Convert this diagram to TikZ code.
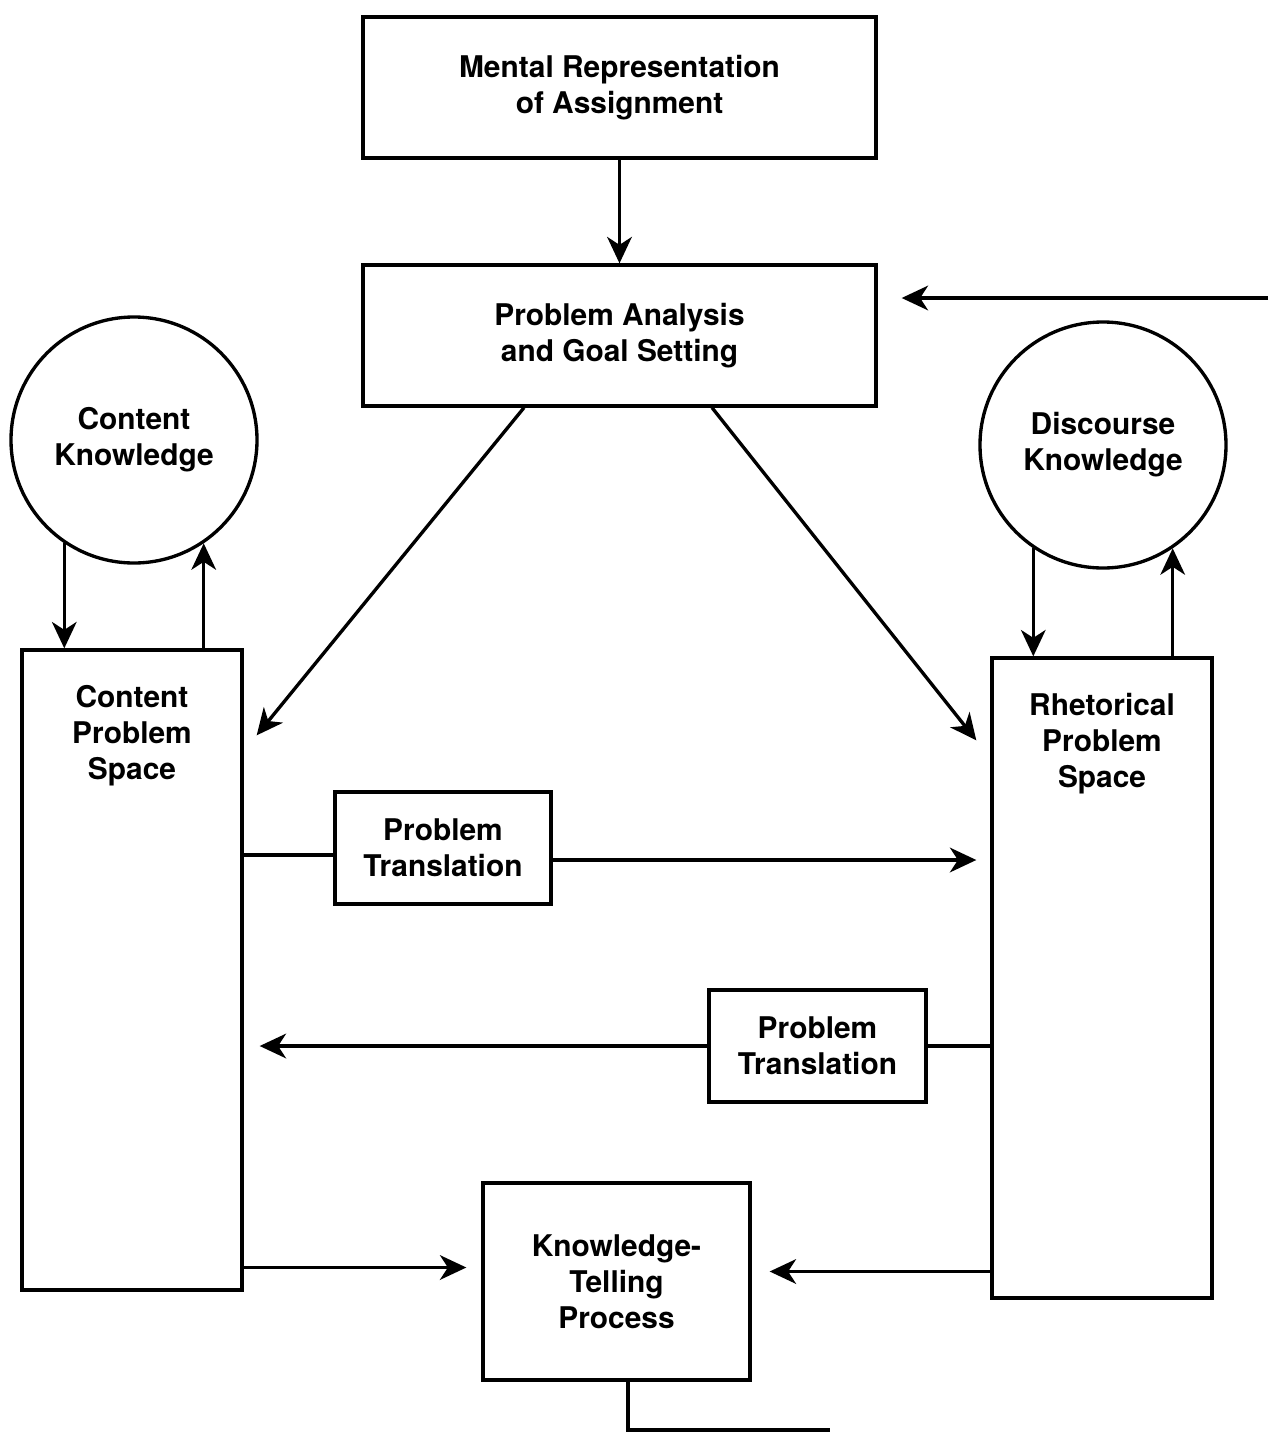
\documentclass[tikz,border=0pt]{standalone}
\usepackage{fontspec}
\setmainfont{TeX Gyre Heros}
\usetikzlibrary{arrows.meta,positioning}

\begin{document}
\begin{tikzpicture}[
    block/.style={rectangle, draw, line width=1.9pt, align=center, font=\fontsize{17}{20.5}\selectfont\bfseries},
    store/.style={circle, draw, line width=1.9pt, align=center, minimum size=4.92cm, inner sep=0pt, font=\fontsize{17}{20.5}\selectfont\bfseries},
    space/.style={rectangle, draw, line width=1.9pt, minimum width=4.4cm, minimum height=12.8cm},
    flow/.style={-{Stealth[length=15pt,width=14pt,inset=4.5pt]}, line width=1.9pt}]
    \useasboundingbox (0,0) rectangle (25.36,-28.66);

    \node[block, minimum width=10.26cm, minimum height=2.82cm] (Assignment) at (12.39,-1.75) {Mental Representation\\of Assignment};
    \node[block, minimum width=10.26cm, minimum height=2.82cm] (Analysis) at (12.39,-6.71) {Problem Analysis\\and Goal Setting};
    \node[store] (ContentK) at (2.68,-8.8) {Content\\Knowledge};
    \node[store] (DiscourseK) at (22.06,-8.9) {Discourse\\Knowledge};
    \node[space, label={[anchor=north, yshift=-0.62cm, align=center, font=\fontsize{17}{20.5}\selectfont\bfseries]north:Content\\Problem\\Space}] (ContentPS) at (2.64,-19.4) {};
    \node[space, label={[anchor=north, yshift=-0.62cm, align=center, font=\fontsize{17}{20.5}\selectfont\bfseries]north:Rhetorical\\Problem\\Space}] (RhetoricPS) at (22.04,-19.56) {};
    \node[block, minimum width=4.32cm, minimum height=2.24cm] (TransA) at (8.86,-16.96) {Problem\\Translation};
    \node[block, minimum width=4.34cm, minimum height=2.24cm] (TransB) at (16.35,-20.92) {Problem\\Translation};
    \node[block, minimum width=5.34cm, minimum height=3.94cm] (Telling) at (12.33,-25.63) {Knowledge-\\Telling\\Process};

    \coordinate (Feedback) at (25.36,-5.96);
    \coordinate (Output) at (16.6,-28.6);
    \coordinate (TransAIn) at ([yshift=-0.14cm]TransA.west);
    \coordinate (TransAOut) at ([yshift=-0.24cm]TransA.east);
    \coordinate (TellingIn) at ([yshift=0.28cm]Telling.west);
    \coordinate (TellingInB) at ([yshift=0.2cm]Telling.east);

    \draw[flow] (Assignment) -- (Analysis);
    \draw[flow, shorten >=0.48cm] (Feedback) -- (Analysis.east |- Feedback);
    \draw[flow] ([xshift=-1.91cm]Analysis.south) -- ([shift={(0.26,-1.74)}]ContentPS.north east);
    \draw[flow] ([xshift=1.85cm]Analysis.south) -- ([shift={(-0.28,-1.68)}]RhetoricPS.north west);

    \draw[flow] (ContentK.236) -- (ContentK.236 |- ContentPS.north);
    \draw[flow] (ContentK.304 |- ContentPS.north) -- (ContentK.304);
    \draw[flow] (DiscourseK.236) -- (DiscourseK.236 |- RhetoricPS.north);
    \draw[flow] (DiscourseK.304 |- RhetoricPS.north) -- (DiscourseK.304);

    \draw[line width=1.9pt] (ContentPS.east |- TransAIn) -- (TransAIn);
    \draw[flow, shorten >=0.28cm] (TransAOut) -- (RhetoricPS.west |- TransAOut);
    \draw[line width=1.9pt] (RhetoricPS.west |- TransB.east) -- (TransB.east);
    \draw[flow, shorten >=0.32cm] (TransB.west) -- (ContentPS.east |- TransB.west);

    \draw[flow, shorten >=0.3cm] (ContentPS.east |- TellingIn) -- (TellingIn);
    \draw[flow, shorten >=0.36cm] (RhetoricPS.west |- TellingInB) -- (TellingInB);
    \draw[line width=1.9pt] ([xshift=0.23cm]Telling.south) |- (Output);
\end{tikzpicture}
\end{document}
